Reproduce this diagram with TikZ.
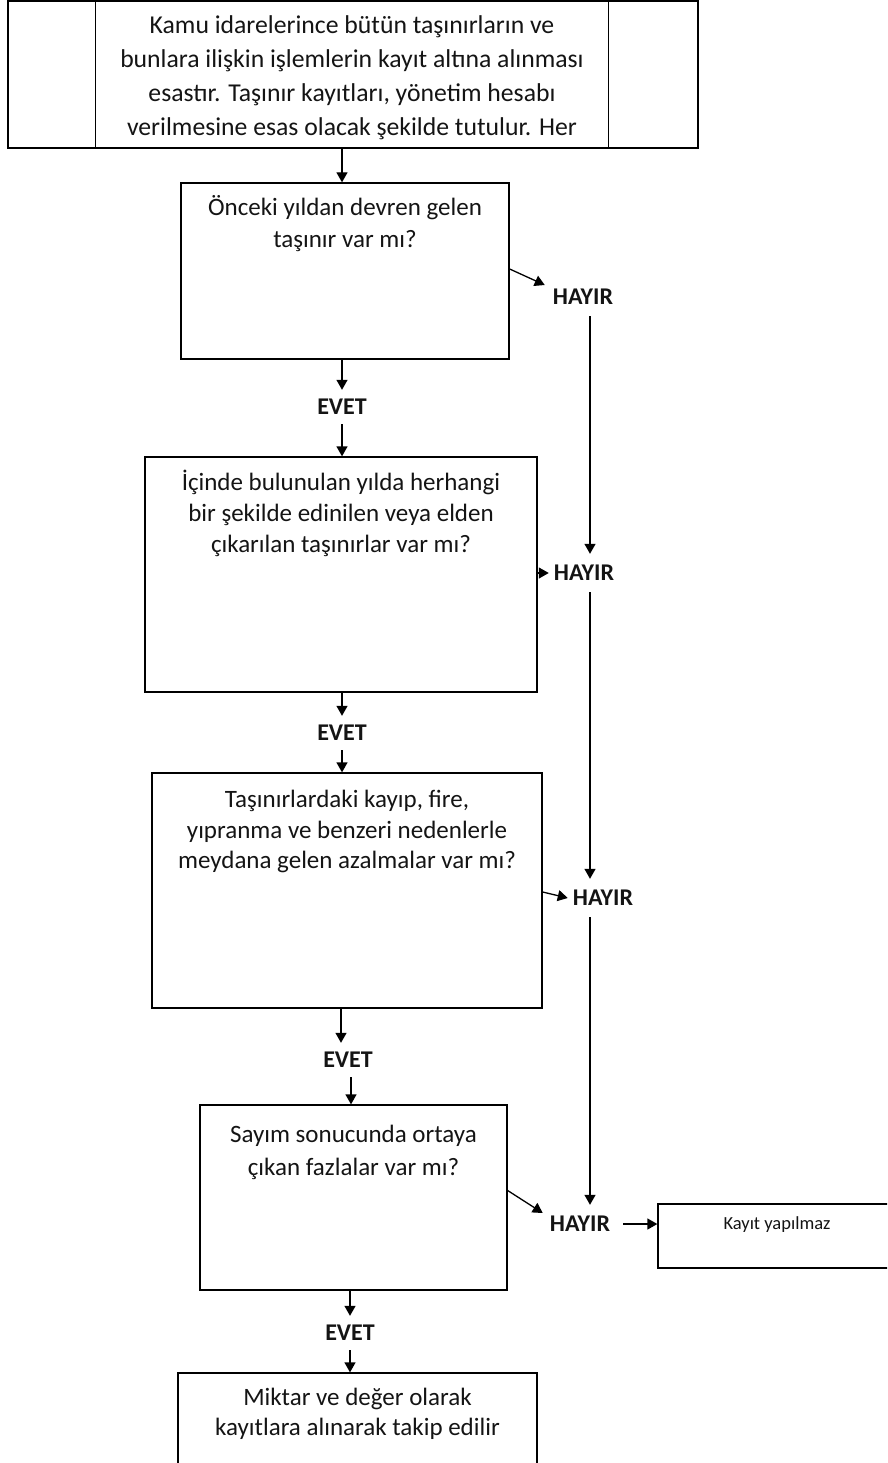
\documentclass[tikz,border=0pt]{standalone}
\usepackage{fontspec}
\setmainfont{Carlito}
\usetikzlibrary{arrows.meta,calc}
\newcommand\mainfnt{\fontsize{25}{31}\selectfont}
\newcommand\topfnt{\fontsize{25.7}{34}\selectfont}
\newcommand\lblfnt{\bfseries\fontsize{24}{24}\selectfont}
\newcommand\smallfnt{\fontsize{18.5}{22}\selectfont}
\tikzset{
  box/.style={draw, line width=1.3pt, inner sep=0pt},
  txt/.style={anchor=north, align=center, inner sep=0pt, font=\mainfnt, text=black!92},
  lbl/.style={inner sep=0pt, font=\lblfnt, text=black!92},
  evet/.style={lbl, minimum height=34pt},
  hayir/.style={lbl, minimum height=38pt},
  arr/.style={line width=1.3pt, -{Triangle[length=10pt,width=11pt]}},
}
\begin{document}
\begin{tikzpicture}[x=1pt,y=-1pt]
\useasboundingbox (0,0) rectangle (887,1463);
\clip (0,0) rectangle (887,1463);
% boxes
\node[box, minimum width=690pt, minimum height=147pt] (top) at (353,74.5) {};
\draw[line width=1.3pt] ($(top.north west)+(88,0)$) -- ($(top.south west)+(88,0)$);
\draw[line width=1.3pt] ($(top.north west)+(601,0)$) -- ($(top.south west)+(601,0)$);
\node[txt, font=\topfnt] (ttop) at (352,9.2) {\strut Kamu idarelerince bütün taşınırların ve\\bunlara ilişkin işlemlerin kayıt altına alınması\\esastır. Taşınır kayıtları, yönetim hesabı\\verilmesine esas olacak şekilde tutulur. Her};

\node[box, minimum width=328pt, minimum height=176pt] (b1) at (345,271) {};
\node[txt, font=\fontsize{25}{32}\selectfont] (t1) at ($(b1.north)+(0,10.6)$) {\strut Önceki yıldan devren gelen\\taşınır var mı?};

\node[box, minimum width=392pt, minimum height=235pt] (b2) at (341,574.5) {};
\node[txt] (t2) at ($(b2.north)+(0,12.3)$) {\strut İçinde bulunulan yılda herhangi\\bir şekilde edinilen veya elden\\çıkarılan taşınırlar var mı?};

\node[box, minimum width=390pt, minimum height=235pt] (b3) at (347,890.5) {};
\node[txt, font=\fontsize{25}{30.5}\selectfont] (t3) at ($(b3.north)+(0,13.6)$) {\strut Taşınırlardaki kayıp, fire,\\yıpranma ve benzeri nedenlerle\\meydana gelen azalmalar var mı?};

\node[box, minimum width=307pt, minimum height=185pt] (b4) at (353.5,1197.5) {};
\node[txt, font=\fontsize{25}{33}\selectfont] (t4) at ($(b4.north)+(0,14.6)$) {\strut Sayım sonucunda ortaya\\çıkan fazlalar var mı?};

\node[box, minimum width=359pt, minimum height=140pt] (b5) at (357.5,1443) {};
\node[txt, font=\fontsize{25}{30}\selectfont] (t5) at ($(b5.north)+(0,12)$) {\strut Miktar ve değer olarak\\kayıtlara alınarak takip edilir};

\node[box, minimum width=252pt, minimum height=64pt] (K) at (784,1236) {};
\node[inner sep=0pt, anchor=base, font=\smallfnt, text=black!92] (tK) at (777,1229) {Kayıt yapılmaz};

% labels
\node[evet] (E1) at (342,407) {EVET};
\node[evet] (E2) at (342,733) {EVET};
\node[evet] (E3) at (348,1060) {EVET};
\node[evet] (E4) at (350,1333) {EVET};
\node[hayir] (H1) at (583,297) {HAYIR};
\node[hayir] (H2) at (584,573) {HAYIR};
\node[hayir] (H3) at (603,898) {HAYIR};
\node[hayir] (H4) at (580,1224) {HAYIR};
\coordinate (vx) at (590,0);

% vertical flow
\draw[arr] (top.south -| E1) -- (b1.north -| E1);
\draw[arr] (b1.south -| E1) -- (E1.north);
\draw[arr] (E1.south) -- (b2.north -| E1);
\draw[arr] (b2.south -| E2) -- (E2.north);
\draw[arr] (E2.south) -- (b3.north -| E2);
\draw[arr] ($(b3.south -| E3)+(-7,0)$) -- ($(E3.north)+(-7,0)$);
\draw[arr] ($(E3.south)+(3,0)$) -- ($(b4.north -| E3)+(3,0)$);
\draw[arr] (b4.south -| E4) -- (E4.north);
\draw[arr] (E4.south) -- (b5.north -| E4);

% HAYIR branch
\draw[arr] ($(b1.east)+(0,-2)$) -- ($(H1.west)+(-8,-12)$);
\draw[arr] (b2.east |- H2) -- ($(H2.west)+(-5,0)$);
\draw[arr] ($(b3.east |- H3)+(0,-6)$) -- ($(H3.west)+(-5,0)$);
\draw[arr] ($(b4.east)+(0,-7)$) -- ($(H4.west)+(-7,-11)$);
\draw[arr] (H1.south -| vx) -- (H2.north -| vx);
\draw[arr] (H2.south -| vx) -- (H3.north -| vx);
\draw[arr] (H3.south -| vx) -- (H4.north -| vx);
\draw[arr] ($(H4.east)+(13,0)$) -- (K.west |- H4);
\end{tikzpicture}
\end{document}
